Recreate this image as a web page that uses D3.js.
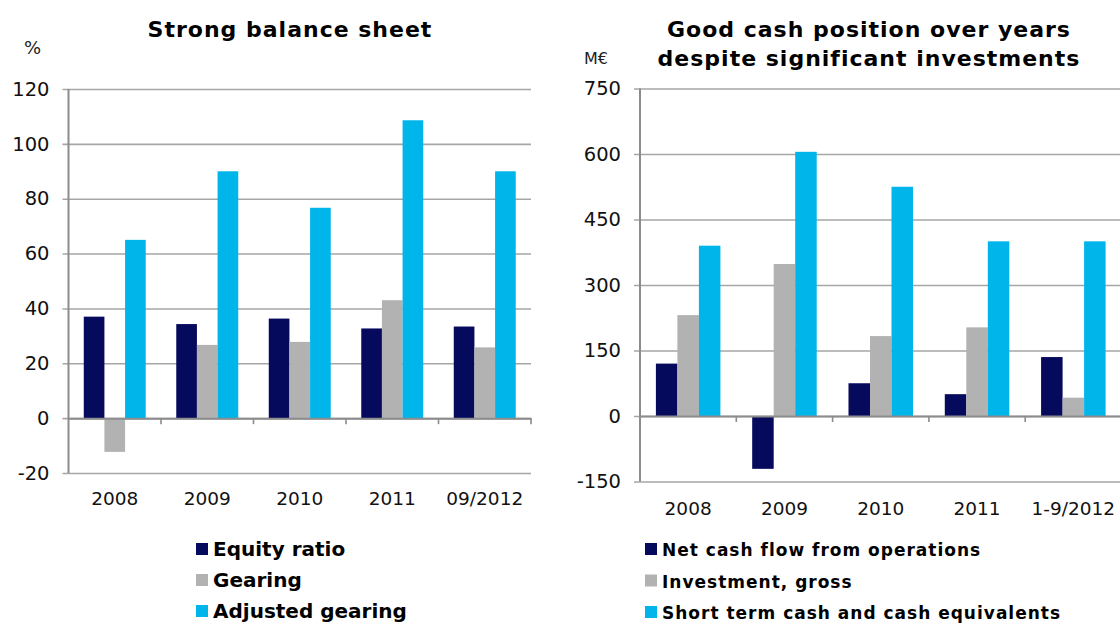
<!DOCTYPE html>
<html>
<head>
<meta charset="utf-8">
<script src="https://cdn.jsdelivr.net/npm/d3@7"></script>
<style>
  body { margin: 0; background: #fff; }
  svg { display: block; font-family: "DejaVu Sans", Verdana, sans-serif; }
</style>
</head>
<body>
<svg id="chart" width="1120" height="623"></svg>
<script>
// left chart data
let years_left = ['2008', '2009', '2010', '2011', '09/2012'];
let series_left = ['Equity ratio', 'Gearing', 'Adjusted gearing'];
let equity_ratio = [37, 34.3, 36.3, 32.7, 33.4];
let gearing = [-12.3, 26.7, 27.8, 43, 25.8];
let adjusted_gearing = [65, 90, 76.7, 108.6, 90];
let ticks_left = [-20, 0, 20, 40, 60, 80, 100, 120];

// right chart data
let years_right = ['2008', '2009', '2010', '2011', '1-9/2012'];
let series_right = ['Net cash flow from operations', 'Investment, gross', 'Short term cash and cash equivalents'];
let net_cash_flow = [120, -121, 75, 50, 135];
let investment_gross = [231, 348, 183, 203, 42];
let short_term_cash = [390, 605, 525, 400, 400];
let ticks_right = [-150, 0, 150, 300, 450, 600, 750];

let colors = ['#060a5c', '#b2b2b2', '#00b5ea'];

let svg = d3.select('#chart');

function draw_panel(opt) {
    let g = svg.append('g');
    let y = d3.scaleLinear().domain(opt.domain).range([opt.bottom, opt.top]);
    let x0 = d3.scaleBand().domain(opt.cats).range([opt.left, opt.right]);
    let pad = x0.bandwidth() * opt.pad;
    let x1 = d3.scaleBand().domain(d3.range(opt.values.length)).range([pad, x0.bandwidth() - pad]);

    // gridlines + y labels (plain hyphen for negatives, like the original)
    let yAxis = g.append('g')
        .attr('transform', `translate(${opt.left},0)`)
        .call(d3.axisLeft(y).tickValues(opt.ticks).tickFormat(d => String(d))
            .tickSize(-(opt.right - opt.left)).tickPadding(19).tickSizeOuter(0));
    yAxis.select('.domain').remove();
    yAxis.selectAll('.tick line')
        .attr('x1', -6)
        .attr('stroke', '#a6a6a6')
        .attr('stroke-width', 1.6);
    yAxis.selectAll('.tick text')
        .attr('fill', '#111')
        .attr('font-size', 19.5)
        .attr('font-family', '"DejaVu Sans", Verdana, sans-serif');

    // bars
    opt.values.forEach((vals, si) => {
        g.append('g')
            .selectAll('rect')
            .data(vals)
            .join('rect')
            .attr('x', (d, i) => x0(opt.cats[i]) + x1(si))
            .attr('width', x1.bandwidth())
            .attr('y', d => y(Math.max(0, d)))
            .attr('height', d => Math.abs(y(d) - y(0)))
            .attr('fill', colors[si]);
    });

    // y axis line
    g.append('line')
        .attr('x1', opt.left).attr('x2', opt.left)
        .attr('y1', y(opt.domain[0])).attr('y2', y(opt.domain[1]))
        .attr('stroke', '#8c8c8c').attr('stroke-width', 2);

    // x axis at zero
    let xAxis = g.append('g')
        .attr('transform', `translate(0,${y(0)})`)
        .call(d3.axisBottom(x0).tickSize(0).tickFormat(''));
    xAxis.select('.domain').attr('stroke', '#8c8c8c').attr('stroke-width', 2);
    xAxis.selectAll('.tick').remove();
    let bounds = opt.cats.map(c => x0(c)).concat([opt.right]).slice(1);
    xAxis.selectAll('line.cat')
        .data(bounds)
        .join('line')
        .attr('class', 'cat')
        .attr('x1', d => d).attr('x2', d => d)
        .attr('y1', 0).attr('y2', 6)
        .attr('stroke', '#8c8c8c').attr('stroke-width', 1.6);

    // category labels
    g.append('g')
        .selectAll('text')
        .data(opt.cats)
        .join('text')
        .attr('x', d => x0(d) + x0.bandwidth() / 2)
        .attr('y', opt.labelY)
        .attr('text-anchor', 'middle')
        .attr('font-size', 18.5)
        .attr('fill', '#111')
        .text(d => d);

    // unit label
    g.append('text')
        .attr('x', opt.unit[1]).attr('y', opt.unit[2])
        .attr('font-size', opt.unit[3])
        .attr('fill', '#222')
        .text(opt.unit[0]);

    // title
    opt.title.forEach((t, i) => {
        g.append('text')
            .attr('x', opt.titleX).attr('y', opt.titleY + i * 29)
            .attr('text-anchor', 'middle')
            .attr('font-size', 22)
            .attr('letter-spacing', 1)
            .attr('font-weight', 'bold')
            .attr('fill', '#000')
            .text(t);
    });

    // legend
    let leg = g.append('g')
        .selectAll('g')
        .data(opt.series)
        .join('g')
        .attr('transform', (d, i) => `translate(${opt.legX},${opt.legY + i * opt.legStep})`);
    leg.append('rect')
        .attr('x', 0).attr('y', -13)
        .attr('width', 12).attr('height', 12)
        .attr('fill', (d, i) => colors[i]);
    leg.append('text')
        .attr('x', 17).attr('y', 0)
        .attr('font-size', opt.legSize)
        .attr('letter-spacing', opt.legSpacing)
        .attr('font-weight', 'bold')
        .attr('fill', '#000')
        .text(d => d);
}

draw_panel({
    cats: years_left, series: series_left,
    values: [equity_ratio, gearing, adjusted_gearing],
    domain: [-20, 120], ticks: ticks_left,
    left: 68.5, right: 531, top: 89, bottom: 473, pad: 0.165,
    labelY: 505,
    unit: ['%', 24, 54, 18],
    title: ['Strong balance sheet'], titleX: 290, titleY: 37,
    legX: 196, legY: 556, legStep: 31, legSize: 20, legSpacing: 0
});

draw_panel({
    cats: years_right, series: series_right,
    values: [net_cash_flow, investment_gross, short_term_cash],
    domain: [-150, 750], ticks: ticks_right,
    left: 640, right: 1121.5, top: 88.5, bottom: 481.5, pad: 0.165,
    labelY: 515,
    unit: ['M€', 584, 64, 16],
    title: ['Good cash position over years', 'despite significant investments'], titleX: 869, titleY: 37,
    legX: 645, legY: 556, legStep: 31.5, legSize: 17, legSpacing: 1
});
</script>
</body>
</html>
